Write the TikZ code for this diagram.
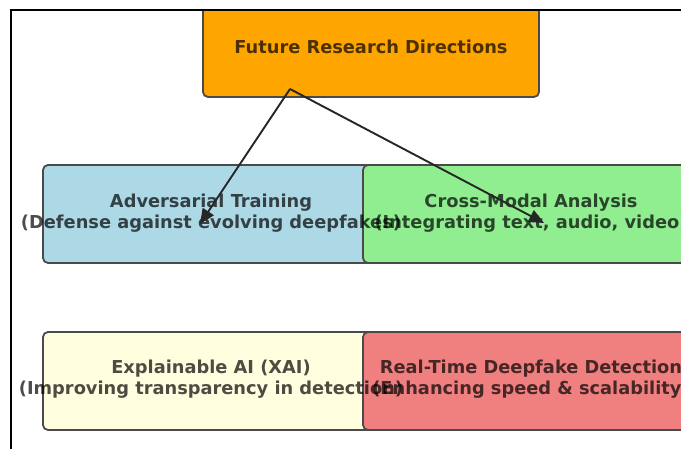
\documentclass[tikz,border=0pt]{standalone}
\usepackage{fontspec}
\setmainfont{DejaVu Sans}
\usetikzlibrary{arrows.meta}
\definecolor{cOrange}{HTML}{FFA500}
\definecolor{cBlue}{HTML}{ADD8E6}
\definecolor{cGreen}{HTML}{90EE90}
\definecolor{cYellow}{HTML}{FFFFE0}
\definecolor{cRed}{HTML}{F08080}
\definecolor{cEdge}{HTML}{4A4A4A}
\tikzset{
  box/.style={draw=cEdge, line width=1.8pt, rounded corners=5pt, minimum width=336pt, minimum height=98pt, inner sep=0pt},
  lbl/.style={font=\fontsize{17.8}{21}\selectfont\bfseries, text=black, text opacity=0.7, align=center, inner sep=0pt},
  arr/.style={draw=black!85, line width=1.9pt, -{Triangle[length=15pt,width=13pt]}},
  frame/.style={draw=black, line width=2pt}
}
\begin{document}
\begin{tikzpicture}[x=1pt,y=1pt]
\useasboundingbox (0,0) rectangle (681,449);
\fill[white] (0,0) rectangle (681,449);
\begin{scope}
\clip (0,0) rectangle (681,439);
\node[box, fill=cOrange, minimum height=130pt] (top) at (371,417) {};
\node[box, fill=cBlue] (adv) at (211,235) {};
\node[box, fill=cGreen] (cross) at (531,235) {};
\node[box, fill=cYellow] (xai) at (211,68) {};
\node[box, fill=cRed] (rt) at (531,68) {};
\node[lbl] (ttop) at (371,402) {Future Research Directions};
\node[lbl] (tadv) at (211,236) {Adversarial Training\\(Defense against evolving deepfakes)};
\node[lbl] (tcross) at (531,236) {Cross-Modal Analysis\\(Integrating text, audio, video)};
\node[lbl] (txai) at (211,70) {Explainable AI (XAI)\\(Improving transparency in detection)};
\node[lbl] (trt) at (531,70) {Real-Time Deepfake Detection\\(Enhancing speed \& scalability)};
\coordinate (src) at (290,360);
\coordinate (endA) at (200,225);
\coordinate (endB) at (544,226);
\draw[arr] (src) -- (endA);
\draw[arr] (src) -- (endB);
\end{scope}
\draw[frame] (11,0) -- (11,439) -- (681,439);
\end{tikzpicture}
\end{document}
